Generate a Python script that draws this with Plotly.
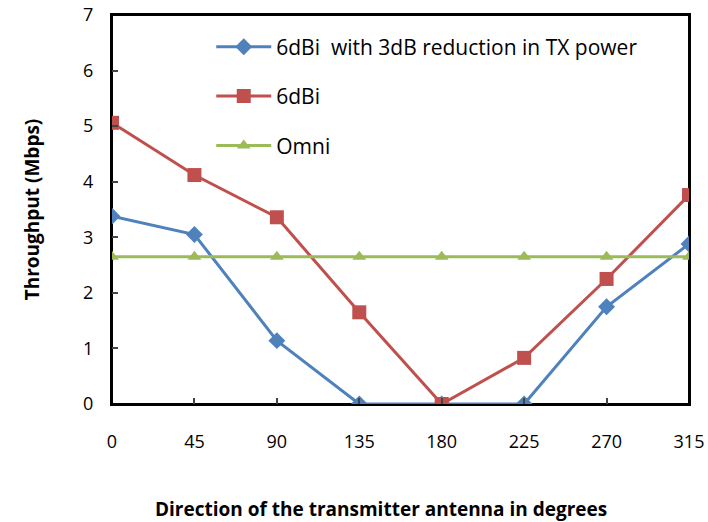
import plotly.graph_objects as go

directions = [0, 45, 90, 135, 180, 225, 270, 315]
reduced_tx = [3.38, 3.05, 1.14, 0, 0, 0, 1.75, 2.88]
dbi6 = [5.06, 4.12, 3.36, 1.65, 0, 0.83, 2.25, 3.76]
omni = [2.65, 2.65, 2.65, 2.65, 2.65, 2.65, 2.65, 2.65]

font = "Open Sans"

fig = go.Figure()
fig.add_trace(go.Scatter(x=directions, y=reduced_tx, mode="lines+markers",
                         name="6dBi  with 3dB reduction in TX power", legendgroup="a",
                         line=dict(color="#4F81BD", width=3),
                         marker=dict(symbol="diamond", size=13, color="#4F81BD")))
fig.add_trace(go.Scatter(x=directions, y=dbi6, mode="lines+markers",
                         name="6dBi", legendgroup="b",
                         line=dict(color="#C0504D", width=3),
                         marker=dict(symbol="square", size=14, color="#C0504D")))
fig.add_trace(go.Scatter(x=directions, y=omni, mode="lines+markers",
                         name="Omni", legendgroup="c",
                         line=dict(color="#9BBB59", width=3),
                         marker=dict(symbol="triangle-up", size=12, color="#9BBB59")))

fig.update_layout(
    width=708, height=522,
    margin=dict(l=112, r=19, t=15, b=118),
    plot_bgcolor="white", paper_bgcolor="white",
    font=dict(family=font, size=18, color="black"),
    legend=dict(x=0.172, y=0.97, xanchor="left", yanchor="top",
                bgcolor="rgba(0,0,0,0)", tracegroupgap=19, itemwidth=55,
                font=dict(size=21)),
    annotations=[dict(text="<b>Direction of the transmitter antenna in degrees</b>",
                      xref="paper", yref="paper", x=0.467, y=-0.27,
                      xanchor="center", yanchor="middle", showarrow=False,
                      font=dict(size=19))],
    # plot frame
    shapes=[dict(type="rect", xref="paper", yref="paper", x0=0, x1=1, y0=0, y1=1,
                 line=dict(color="black", width=2), layer="below")],
)
fig.update_xaxes(range=[0, 315], tickvals=directions, ticks="inside", ticklen=6,
                 tickwidth=2, showline=True, linecolor="black", linewidth=2,
                 mirror=True, showgrid=False, zeroline=False, ticklabelstandoff=20,
                 automargin=False, ticklabeloverflow="allow")
fig.update_yaxes(range=[0, 7], dtick=1, ticks="inside", ticklen=6, tickwidth=2,
                 showline=True, linecolor="black", linewidth=2, mirror=True,
                 showgrid=False, zeroline=False, ticklabelstandoff=13, automargin=False,
                 title=dict(text="<b>Throughput (Mbps)</b>", font=dict(size=19), standoff=38))

# drop the default page margin so the figure sits at the window's corner
fig.write_html("out.html", config={"displayModeBar": False},
               post_script="document.body.style.margin='0';document.body.style.overflow='hidden';")
